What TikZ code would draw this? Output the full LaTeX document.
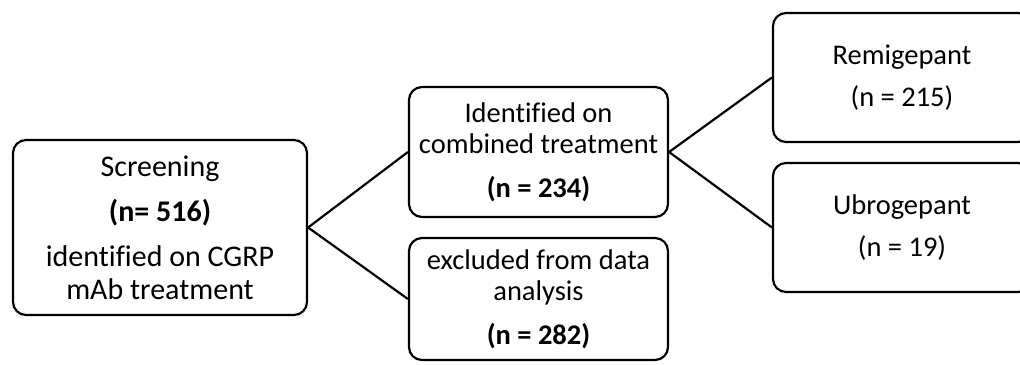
\documentclass[tikz,border=0pt]{standalone}
\usepackage{fontspec}
\setmainfont[Ligatures=NoCommon]{Carlito}
\begin{document}
\begin{tikzpicture}[x=1bp,y=-1bp,
  box/.style={draw=black, line width=2.2bp, rounded corners=13bp, align=center, inner sep=0pt, fill=white},
  txt/.style={font=\fontsize{28.5bp}{31bp}\selectfont},
  bigtxt/.style={font=\fontsize{30bp}{33bp}\selectfont},
  link/.style={draw=black, line width=2.2bp}]
\useasboundingbox (0,0) rectangle (1020,364);
\clip (0,0) rectangle (1020,364);
\fill[white] (0,0) rectangle (1020,364);
\node[box, bigtxt, minimum width=294bp, minimum height=175bp] (scr) at (160,227.5)
  {Screening\\[12bp]\textbf{(n= 516)}\\[12bp]identified on CGRP\\mAb treatment};
\node[box, txt, minimum width=259bp, minimum height=130bp] (comb) at (538.5,152)
  {Identified on\\combined treatment\\[13bp]\textbf{(n = 234)}};
\node[box, txt, minimum width=259bp, minimum height=122bp] (excl) at (538.5,299)
  {excluded from data\\analysis\\[13bp]\textbf{(n = 282)}};
\node[box, txt, minimum width=258bp, minimum height=129bp] (remi) at (902,77.5)
  {Remigepant\\[11bp](n = 215)};
\node[box, txt, minimum width=258bp, minimum height=129bp] (ubro) at (902,227.5)
  {Ubrogepant\\[11bp](n = 19)};
\draw[link] (scr.east) -- (comb.west);
\draw[link] (scr.east) -- (excl.west);
\draw[link] (comb.east) -- (remi.west);
\draw[link] (comb.east) -- (ubro.west);
\end{tikzpicture}
\end{document}
